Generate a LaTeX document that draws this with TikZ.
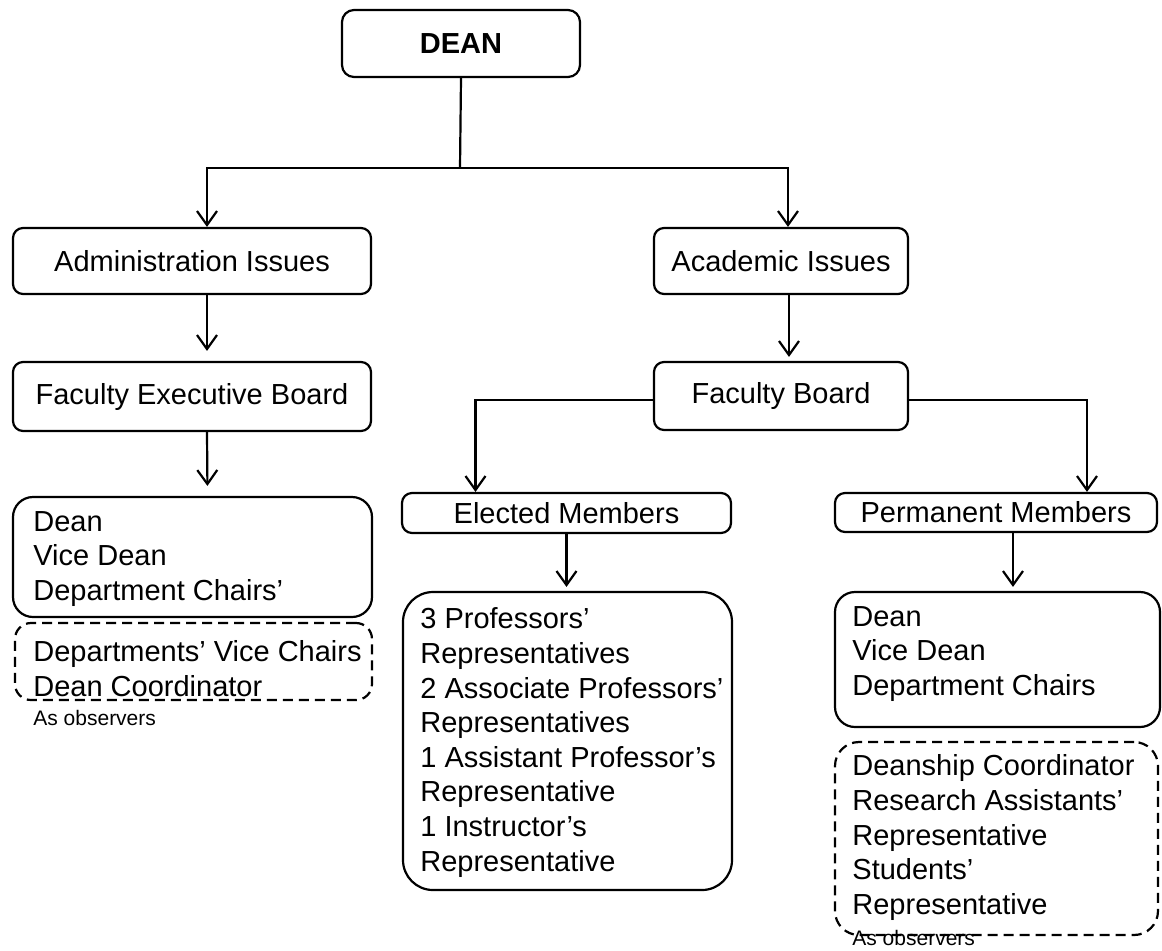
\documentclass[tikz,border=0pt]{standalone}
\usepackage{fontspec}
\setmainfont{Liberation Sans}
\usetikzlibrary{arrows.meta,calc}
\newcommand\fsmain{\fontsize{14.5}{17.3}\selectfont}
\newcommand\fssmall{\fontsize{10.5}{12}\selectfont}
\begin{document}
\begin{tikzpicture}[x=0.5pt,y=-0.5pt,
  box/.style={draw, line width=1.1pt, rounded corners=5pt, inner sep=0pt, font=\fsmain},
  dbox/.style={box, dashed, dash pattern=on 5pt off 3pt},
  txt/.style={inner sep=0pt, anchor=west, align=left, font=\fsmain},
  note/.style={inner sep=0pt, anchor=west, font=\fssmall},
  line/.style={line width=1.1pt},
  arr/.style={line width=1.1pt, -{Straight Barb[length=7pt,width=10pt,line width=1.1pt]}}]
\useasboundingbox (0,0) rectangle (1162,950);

% boxes
\node[box, rounded corners=6pt, minimum width=119pt, minimum height=33.5pt, font=\fsmain\bfseries] (dean) at (461,43.5) {DEAN};
\node[box, minimum width=179pt, minimum height=33pt] (admin) at (192,261) {Administration Issues};
\node[box, minimum width=127pt, minimum height=33pt] (acad) at (781,261) {Academic Issues};
\node[box, minimum width=179pt, minimum height=34.5pt] (feb) at (192,396.5) {Faculty Executive Board};
\node[box, minimum width=127pt, minimum height=34pt] (fb) at (781,396) {Faculty Board};
\node[box, minimum width=164.5pt, minimum height=20pt] (elected) at (566.5,513) {Elected Members};
\node[box, minimum width=161pt, minimum height=19.5pt] (perm) at (996,512.5) {Permanent Members};

\node[box, rounded corners=10pt, minimum width=179.5pt, minimum height=60pt] (lbox) at (192.5,557) {};
\node[dbox, rounded corners=8pt, minimum width=178.5pt, minimum height=38.5pt] (ldash) at (193.5,661.5) {};
\node[box, rounded corners=15pt, minimum width=164.5pt, minimum height=149pt] (ebox) at (567.5,741) {};
\node[box, rounded corners=10pt, minimum width=162.5pt, minimum height=67.5pt] (rbox) at (997.5,659.5) {};
\node[dbox, rounded corners=12pt, minimum width=161.5pt, minimum height=96.5pt] (rdash) at (996.5,838.5) {};

% box texts
\node[txt] (lboxt) at (33,559) {Dean\\Vice Dean\\Department Chairs'};
\node[txt] (ldasht) at (33,668.5) {Departments' Vice Chairs\\Dean Coordinator};
\node[note] (lobs) at (33,718) {As observers};
\node[txt] (eboxt) at (420,742.5) {3 Professors'\\Representatives\\2 Associate Professors'\\Representatives\\1 Assistant Professor's\\Representative\\1 Instructor's\\Representative};
\node[txt] (rboxt) at (852,654) {Dean\\Vice Dean\\Department Chairs};
\node[txt] (rdasht) at (852,837.5) {Deanship Coordinator\\Research Assistants'\\Representative\\Students'\\Representative};
\node[note] (robs) at (852,938) {As observers};

% connectors
\coordinate (j1) at (460,168);
\coordinate (pa) at ($(perm.south)+(17,0)$);
\draw[line] (dean.south) -- (j1);
\draw[arr] (j1) -| ($(admin.north)+(15,0)$);
\draw[arr] (j1) -| ($(acad.north)+(7,0)$);
\draw[arr, shorten >=5pt] ($(admin.south)+(15,0)$) -- ($(feb.north)+(15,0)$);
\draw[arr, shorten >=2pt] ($(acad.south)+(8,0)$) -- ($(fb.north)+(8,0)$);
\draw[arr, shorten >=5pt] ($(feb.south)+(15,0)$) -- ($(lbox.north)+(15,0)$);
\draw[arr] ($(fb.west)+(0,4)$) -| ($(elected.north)+(-91,0)$);
\draw[arr] ($(fb.east)+(0,4)$) -| ($(perm.north)+(91,0)$);
\draw[arr, shorten >=2pt] (elected.south) -- (elected.south |- ebox.north);
\draw[arr, shorten >=2pt] (pa) -- (pa |- rbox.north);
\end{tikzpicture}
\end{document}
